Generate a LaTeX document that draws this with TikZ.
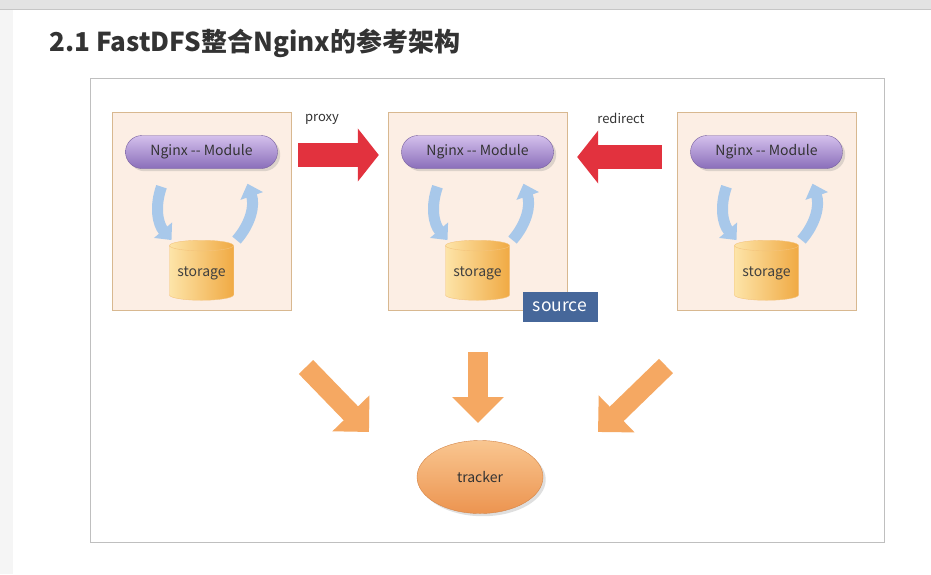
\documentclass[tikz,border=0pt]{standalone}
\usepackage{fontspec}
\setmainfont{Noto Sans CJK SC}
\usetikzlibrary{arrows.meta,shapes.geometric,shapes.misc,shadows}

\definecolor{boxfill}{HTML}{FCEEE4}
\definecolor{boxline}{HTML}{D8B890}
\definecolor{pilltop}{HTML}{D4C0EC}
\definecolor{pillbot}{HTML}{8A6EBA}
\definecolor{cylleft}{HTML}{FDE4A8}
\definecolor{cylright}{HTML}{F0AA44}
\definecolor{bluearr}{HTML}{A8C8EA}
\definecolor{redarr}{HTML}{E2323E}
\definecolor{orangearr}{HTML}{F5A862}
\definecolor{trackertop}{HTML}{F9C690}
\definecolor{trackerbot}{HTML}{EC9450}
\definecolor{sourcefill}{HTML}{46679A}
\definecolor{titlegray}{HTML}{333333}

\tikzset{
  serverbox/.style={draw=boxline, fill=boxfill, minimum width=179pt, minimum height=198pt, inner sep=0pt},
  modulepill/.style={rounded rectangle, draw=pillbot!85!black, top color=pilltop, bottom color=pillbot,
    minimum width=152pt, minimum height=33pt, inner sep=0pt, font=\fontsize{14}{16}\selectfont, text=black!80,
    drop shadow={opacity=0.25}},
  storagecyl/.style={cylinder, shape border rotate=90, aspect=0.22, draw=cylright!70!white,
    left color=cylleft, right color=cylright, minimum width=64pt, minimum height=60pt, inner sep=0pt,
    font=\fontsize{14}{16}\selectfont, text=black!75},
  bluearrow/.style={bluearr, line width=11pt, -{Triangle[length=13pt,width=23pt]}},
  redarrow/.style={redarr, line width=24pt, -{Triangle[length=21pt,width=52pt]}},
  orangearrow/.style={orangearr, line width=20pt, -{Triangle[length=26pt,width=50pt]}},
  trackernode/.style={ellipse, draw=trackerbot!90!black, top color=trackertop, bottom color=trackerbot,
    minimum width=126pt, minimum height=73pt, font=\fontsize{14}{16}\selectfont, text=black!80,
    drop shadow={opacity=0.25}},
  sourcetag/.style={fill=sourcefill, text=white, minimum width=75pt, minimum height=30pt, inner sep=0pt,
    font=\fontsize{17.5}{19}\selectfont},
  labeltext/.style={font=\fontsize{13}{15}\selectfont, text=titlegray},
}

\begin{document}
\begin{tikzpicture}[x=1pt,y=-1pt]
  \useasboundingbox (0,0) rectangle (931,574);
  % window and slide
  \fill[gray!8] (0,0) rectangle (931,574);
  \fill[gray!22] (0,0) rectangle (931,9);
  \draw[gray!45] (0,9) -- (931,9);
  \fill[white] (13,10) rectangle (931,574);
  \node[anchor=base west, font=\fontsize{26}{30}\selectfont\bfseries, text=titlegray] (title) at (46,51)
    {2.1 FastDFS整合Nginx的参考架构};
  \draw[gray!50] (90,78) rectangle (884,542);

  % three servers: nginx module over storage
  \foreach \n/\x in {1/201.5,2/477.5,3/766.5}{
    \node[serverbox] (box\n) at (\x,211) {};
    \node[modulepill] (pill\n) at (\x,152) {Nginx -{}- Module};
    \node[storagecyl] (cyl\n) at (\x,273) {storage};
    \draw[bluearrow] ([shift={(-40pt,-18pt)}]pill\n.south) to[bend right=30] ([xshift=-30pt]cyl\n.north);
    \draw[bluearrow] ([xshift=35pt]cyl\n.north) to[bend right=30] ([shift={(46pt,-15pt)}]pill\n.south);
  }
  \node[sourcetag] (source) at (560,307) {source};

  % proxy / redirect
  \draw[redarrow, shorten <=7pt, shorten >=9pt, transform canvas={yshift=-3pt}] (box1.east |- pill1.east) -- (box2.west |- pill2.west);
  \draw[redarrow, shorten <=15pt, shorten >=10pt, transform canvas={yshift=-5pt}] (box3.west |- pill3.west) -- (box2.east |- pill2.east);
  \node[labeltext] (proxy) at (322,119) {proxy};
  \node[labeltext] (redirect) at (621,118) {redirect};

  % tracker
  \node[trackernode] (tracker) at (480,477) {tracker};
  \coordinate (tail1) at (306,367);
  \coordinate (tip1) at (369,432);
  \coordinate (tail2) at (478,352);
  \coordinate (tip2) at (478,423);
  \coordinate (tail3) at (666,366);
  \coordinate (tip3) at (598,432);
  \foreach \k in {1,2,3}{
    \draw[orangearrow] (tail\k) -- (tip\k);
  }
\end{tikzpicture}
\end{document}
